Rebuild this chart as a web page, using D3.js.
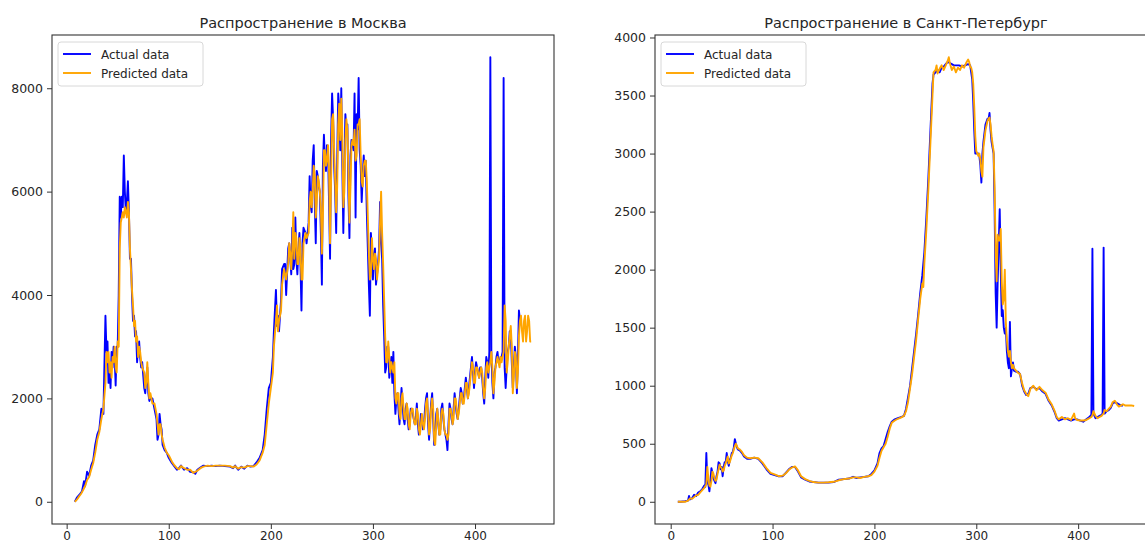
<!DOCTYPE html>
<meta charset="utf-8">
<style>
body {
    margin: 0;
    background: #fff;
}
text {
    font-family: "DejaVu Sans", sans-serif;
    fill: #262626;
}
.frame {
    fill: none;
    stroke: #333;
    stroke-width: 1.1px;
}
.tick line {
    stroke: #333;
}
.line {
    fill: none;
    stroke-width: 1.9px;
    stroke-linejoin: round;
}
</style>
<svg width="1145" height="544"></svg>

<script src="https://d3js.org/d3.v7.min.js"></script>
<script>
// Moscow, [day, cases]
const moscowActual = [
    [8,0],[10,80],[13,150],[15,200],[17,400],[18,300],[20,580],[22,500],[24,700],[26,800],[28,1100],[30,1300],
    [32,1400],[34,1800],[36,1700],[38,3600],[39,2900],[40,3100],[41,2300],[42,2600],[43,2200],[44,2900],[45,2600],
    [46,3000],[47,2800],[48,2250],[49,3000],[50,3000],[51,4000],[52,5900],[53,5500],[54,5900],[55,5700],[56,6700],
    [57,6000],[58,5600],[59,5800],[60,6200],[61,5600],[62,4700],[63,4700],[64,4000],[65,3500],[66,3600],[67,3200],
    [68,3300],[69,2700],[70,3000],[71,3100],[72,2800],[73,2600],[74,2700],[76,2200],[77,2100],[78,2400],[79,2600],
    [80,2100],[81,1950],[82,2000],[84,2000],[86,1800],[88,1600],[89,1200],[90,1300],[91,1700],[92,1500],[93,1400],
    [94,1100],[96,1000],[98,950],[100,850],[103,750],[105,700],[108,620],[110,650],[112,700],[115,620],[118,650],
    [121,580],[124,570],[126,540],[128,620],[131,660],[134,700],[138,690],[142,700],[146,690],[150,700],[155,690],
    [160,680],[163,650],[165,700],[168,620],[171,680],[174,640],[177,700],[180,680],[183,690],[186,760],[189,850],
    [192,1000],[194,1300],[196,1800],[198,2200],[200,2300],[202,2800],[203,3300],[205,4100],[206,3400],[207,3600],
    [208,3300],[210,3900],[211,4500],[213,4600],[214,4600],[215,4000],[217,4900],[218,5000],[219,4700],[220,4400],
    [221,5300],[222,4500],[223,4600],[224,5500],[225,4700],[226,4400],[227,4900],[228,5200],[229,4600],[230,3700],
    [231,5000],[232,5300],[234,5200],[235,5000],[237,5400],[238,6300],[239,5700],[240,5600],[241,6600],[242,6900],
    [243,5800],[244,5000],[245,6400],[246,6300],[247,6100],[248,6000],[249,5200],[250,4200],[251,6500],[252,7100],
    [253,6600],[254,6400],[255,6900],[256,6800],[257,5800],[258,4700],[259,7000],[260,7900],[261,7400],[262,6500],
    [263,6000],[264,5200],[265,6600],[266,7900],[267,7600],[268,6800],[269,8000],[270,6500],[271,5200],[272,6400],
    [273,7500],[274,7200],[275,7300],[276,5900],[277,5100],[278,6700],[279,7000],[280,6900],[281,6800],[282,7900],
    [283,5500],[284,7500],[285,7200],[286,8200],[287,6800],[288,6500],[289,5800],[290,6300],[291,6700],[292,6300],
    [293,6600],[294,5600],[295,4900],[296,4200],[297,3600],[298,5200],[299,4800],[300,4300],[301,4800],[302,4900],
    [303,4200],[304,4400],[305,4600],[306,4900],[307,5800],[308,5000],[309,4700],[310,3800],[311,3200],[312,2500],
    [313,2600],[314,3000],[315,3000],[316,2400],[317,2600],[318,2800],[319,2300],[320,2900],[321,2100],[322,1700],
    [323,2000],[324,2100],[325,1800],[326,1500],[327,1800],[328,2200],[329,1900],[330,1600],[331,1500],[332,1800],
    [333,1900],[334,1600],[335,1400],[336,1500],[337,1800],[338,1800],[339,1700],[340,1600],[341,1500],[342,1600],
    [343,1900],[344,1500],[345,1300],[346,1400],[347,1700],[348,1600],[349,1400],[350,1500],[351,1800],[352,2000],
    [353,2100],[354,1500],[355,1200],[356,1600],[357,1900],[358,2100],[359,1600],[360,1100],[361,1300],[362,1700],
    [363,1800],[364,1500],[365,1300],[366,1400],[367,1800],[368,1900],[369,1600],[370,1400],[371,1300],[372,1200],
    [373,1000],[374,1500],[375,1900],[376,1800],[377,1600],[378,1500],[379,1800],[380,2100],[381,1900],[382,1700],
    [383,1600],[384,1800],[385,2000],[386,2200],[387,2100],[388,1900],[389,2000],[390,2200],[391,2400],[392,2200],
    [393,2000],[394,2200],[395,2400],[396,2600],[397,2800],[398,2500],[399,2200],[400,2500],[401,2700],[402,2600],
    [403,2500],[404,2400],[405,2600],[406,2600],[407,2400],[408,2100],[409,1900],[410,2400],[411,2800],[412,2700],
    [413,2400],[414,2900],[415,8600],[416,2900],[417,2300],[418,2000],[419,2500],[420,2600],[421,2800],[422,2900],
    [423,2700],[424,2700],[425,2800],[426,2800],[427,2900],[428,8200],[429,2600],[430,2200],[431,2600],[432,2900],
    [433,3000],[434,3300],[435,3300],[436,2700],[437,2200],[438,2600],[439,3000],[440,2800],[441,2100],[442,2800],
    [443,3700],[444,3500]
];
const moscowPredicted = [
    [8,0],[10,40],[12,100],[14,150],[16,220],[18,300],[20,420],[22,480],[24,620],[26,750],[28,950],[30,1200],
    [32,1350],[34,1600],[36,1800],[38,2300],[39,2900],[40,2700],[41,2900],[42,2500],[43,2700],[44,2400],[45,2800],
    [46,2700],[47,3000],[48,2600],[49,2500],[50,3100],[51,3000],[52,4900],[53,5400],[54,5500],[55,5600],[56,5500],
    [57,5700],[58,5600],[59,5500],[60,5800],[61,5600],[62,4900],[63,4500],[64,4100],[65,3800],[66,3400],[67,3500],
    [68,3100],[69,3200],[70,2800],[71,3000],[72,2900],[73,2700],[74,2600],[76,2500],[77,2200],[78,2300],[79,2700],
    [80,2300],[81,2000],[82,2100],[84,1900],[86,1900],[88,1700],[89,1500],[90,1300],[91,1500],[92,1500],[93,1300],
    [94,1200],[96,1050],[98,950],[100,900],[103,780],[105,720],[108,650],[110,630],[112,690],[115,650],[118,620],
    [121,620],[124,560],[126,580],[128,600],[131,650],[134,680],[138,700],[142,690],[146,700],[150,700],[155,700],
    [160,690],[163,660],[165,690],[168,640],[171,670],[174,660],[177,690],[180,690],[183,680],[186,720],[189,800],
    [192,950],[194,1100],[196,1500],[198,1900],[200,2200],[202,2500],[203,3000],[205,3500],[206,3800],[207,3300],
    [208,3500],[210,3700],[211,4200],[213,4500],[214,4400],[215,4300],[217,4600],[218,5000],[219,4800],[220,4500],
    [221,4900],[222,5600],[223,4700],[224,5200],[225,5100],[226,4600],[227,4600],[228,5100],[229,4900],[230,4300],
    [231,4300],[232,5000],[234,5200],[235,5100],[237,5200],[238,5800],[239,6000],[240,5700],[241,6000],[242,6500],
    [243,6300],[244,5500],[245,5800],[246,6300],[247,6200],[248,6000],[249,5700],[250,4800],[251,5500],[252,6800],
    [253,6800],[254,6500],[255,6600],[256,6900],[257,6400],[258,5000],[259,6200],[260,7400],[261,7500],[262,6800],
    [263,6200],[264,5600],[265,6100],[266,7300],[267,7700],[268,7000],[269,7800],[270,7100],[271,5700],[272,6000],
    [273,7000],[274,7400],[275,7200],[276,6400],[277,5400],[278,6100],[279,6900],[280,7000],[281,6900],[282,7200],
    [283,6600],[284,6700],[285,7300],[286,7300],[287,7400],[288,6700],[289,6200],[290,6100],[291,6500],[292,6600],
    [293,6600],[294,6200],[295,5500],[296,4800],[297,4300],[298,4400],[299,5100],[300,4700],[301,4500],[302,4800],
    [303,4700],[304,4300],[305,4500],[306,4700],[307,5400],[308,6000],[309,5200],[310,4600],[311,3900],[312,3200],
    [313,2700],[314,2700],[315,3100],[316,2800],[317,2500],[318,2700],[319,2600],[320,2500],[321,2700],[322,2000],
    [323,1900],[324,2100],[325,2100],[326,1700],[327,1600],[328,2000],[329,2100],[330,1800],[331,1600],[332,1600],
    [333,1900],[334,1800],[335,1500],[336,1400],[337,1700],[338,1800],[339,1800],[340,1600],[341,1500],[342,1500],
    [343,1800],[344,1700],[345,1400],[346,1300],[347,1500],[348,1700],[349,1500],[350,1400],[351,1600],[352,1900],
    [353,2000],[354,1700],[355,1300],[356,1400],[357,1800],[358,2000],[359,1800],[360,1200],[361,1100],[362,1500],
    [363,1800],[364,1600],[365,1300],[366,1300],[367,1700],[368,1800],[369,1700],[370,1400],[371,1300],[372,1300],
    [373,1200],[374,1300],[375,1800],[376,1800],[377,1700],[378,1500],[379,1600],[380,2000],[381,2000],[382,1800],
    [383,1600],[384,1700],[385,1900],[386,2100],[387,2100],[388,1900],[389,1900],[390,2100],[391,2300],[392,2300],
    [393,2000],[394,2100],[395,2300],[396,2500],[397,2700],[398,2600],[399,2300],[400,2300],[401,2600],[402,2600],
    [403,2500],[404,2400],[405,2500],[406,2600],[407,2500],[408,2200],[409,2000],[410,2200],[411,2600],[412,2700],
    [413,2500],[414,2600],[415,2700],[416,2900],[417,2600],[418,2100],[419,2300],[420,2600],[421,2700],[422,2800],
    [423,2700],[424,2600],[425,2800],[426,2700],[427,2800],[428,2900],[429,3800],[430,3500],[431,2500],[432,2700],
    [433,3000],[434,3200],[435,3400],[436,3000],[437,2100],[438,2400],[439,2900],[440,2800],[441,2200],[442,2500],
    [443,3200],[444,3500],[445,3600],[446,3300],[447,3100],[448,3500],[449,3600],[450,3100],[451,3300],[452,3600],
    [453,3500],[454,3100],[455,3100]
];

// Saint Petersburg, [day, cases]
const spbActual = [
    [7,0],[10,0],[14,5],[17,10],[18,50],[19,20],[21,30],[23,60],[25,50],[27,80],[29,90],[31,110],[33,140],[34,130],
    [35,420],[36,160],[37,150],[38,90],[39,180],[40,290],[41,250],[42,200],[43,180],[44,160],[45,220],[46,260],
    [47,340],[48,330],[49,280],[50,300],[51,220],[52,300],[53,340],[54,340],[55,420],[56,350],[57,310],[58,360],
    [59,380],[60,420],[61,430],[62,470],[63,540],[64,500],[65,470],[66,450],[68,440],[70,420],[72,390],[75,370],
    [78,370],[82,380],[86,370],[90,330],[94,280],[98,240],[102,230],[106,220],[110,220],[113,250],[116,280],
    [119,300],[122,300],[125,260],[128,210],[132,190],[136,175],[140,170],[145,165],[150,165],[155,165],[160,170],
    [165,190],[170,195],[175,200],[179,215],[182,205],[186,210],[190,215],[194,220],[197,240],[200,270],[203,330],
    [205,420],[207,460],[209,480],[211,540],[213,600],[215,650],[217,690],[220,710],[223,720],[226,730],[229,740],
    [231,800],[233,900],[235,1000],[237,1150],[239,1300],[241,1450],[243,1620],[245,1800],[247,1950],[249,2150],
    [251,2450],[253,2800],[255,3200],[257,3600],[258,3680],[260,3700],[262,3720],[264,3700],[266,3740],[268,3750],
    [270,3770],[272,3790],[274,3780],[276,3770],[278,3760],[280,3760],[283,3760],[286,3750],[289,3760],[292,3770],
    [294,3760],[295,3700],[296,3640],[297,3450],[298,3200],[299,3000],[300,3000],[302,3000],[303,2980],[304,2900],
    [305,2750],[306,3000],[307,3100],[309,3250],[311,3300],[312,3290],[313,3350],[314,3200],[315,3100],[316,3050],
    [317,3000],[318,2500],[319,1800],[320,1500],[321,1900],[322,2200],[323,2520],[324,2000],[325,1600],[326,1650],
    [327,1500],[328,1450],[329,1500],[330,1300],[331,1200],[332,1150],[333,1550],[334,1080],[335,1150],[336,1200],
    [337,1130],[339,1120],[341,1120],[343,1100],[345,1000],[347,950],[349,920],[351,930],[353,980],[356,990],
    [359,970],[362,980],[365,950],[368,930],[371,870],[374,830],[377,770],[379,720],[381,700],[384,710],[387,720],
    [390,710],[393,700],[396,710],[399,710],[402,700],[405,690],[408,710],[411,730],[413,750],[414,2180],[415,760],
    [417,720],[419,730],[421,740],[423,750],[424,760],[425,2190],[426,760],[428,780],[430,790],[432,810],[434,850],
    [436,860],[438,850],[440,840],[442,830],[444,830]
];
const spbPredicted = [
    [7,0],[10,0],[14,0],[17,10],[19,30],[21,25],[23,40],[25,55],[27,60],[29,80],[31,100],[33,120],[35,150],
    [36,300],[37,200],[38,140],[39,130],[40,180],[41,260],[42,240],[43,200],[44,180],[45,190],[46,240],[47,280],
    [48,320],[49,300],[50,290],[51,260],[52,270],[53,310],[54,330],[55,360],[56,390],[57,330],[58,340],[59,370],
    [60,400],[61,420],[62,450],[63,480],[64,500],[65,480],[66,460],[68,450],[70,430],[72,400],[75,380],[78,375],
    [82,380],[86,375],[90,340],[94,290],[98,250],[102,235],[106,220],[110,225],[113,245],[116,275],[119,295],
    [122,305],[125,270],[128,220],[132,195],[136,180],[140,170],[145,165],[150,165],[155,168],[160,172],[165,185],
    [170,195],[175,200],[179,210],[182,210],[186,205],[190,215],[194,220],[197,230],[200,260],[203,310],[205,380],
    [207,440],[209,470],[211,500],[213,560],[215,630],[217,680],[220,700],[223,715],[226,725],[229,740],[231,780],
    [233,860],[235,980],[237,1100],[239,1250],[241,1400],[243,1580],[245,1750],[247,1880],[248,1850],[249,2050],
    [251,2350],[253,2700],[255,3100],[257,3500],[258,3700],[260,3720],[261,3760],[262,3690],[264,3730],[266,3760],
    [268,3720],[270,3760],[272,3800],[273,3830],[274,3780],[276,3720],[278,3750],[280,3700],[282,3740],[284,3720],
    [286,3760],[288,3740],[290,3780],[292,3810],[293,3790],[294,3750],[295,3740],[296,3700],[297,3600],[298,3400],
    [299,3150],[300,3020],[302,2980],[303,3000],[304,2950],[305,2850],[306,2800],[307,3050],[309,3200],[311,3280],
    [312,3300],[313,3310],[314,3250],[315,3150],[316,3080],[317,3020],[318,2700],[319,2150],[320,1900],[321,2300],
    [322,2250],[323,2250],[324,2350],[325,1900],[326,1700],[327,1750],[328,2000],[329,1550],[330,1400],[331,1300],
    [332,1250],[333,1300],[334,1200],[335,1150],[336,1180],[337,1150],[339,1130],[341,1110],[343,1100],[345,1020],
    [347,960],[349,930],[351,910],[353,970],[356,1000],[359,960],[362,990],[365,960],[368,940],[371,880],[374,840],
    [377,780],[379,730],[381,710],[384,730],[387,710],[390,720],[393,705],[396,760],[397,720],[399,705],[402,700],
    [405,700],[408,705],[411,720],[413,730],[414,745],[415,780],[417,740],[419,720],[421,730],[423,740],[424,750],
    [425,760],[426,790],[428,780],[430,800],[432,820],[434,860],[436,870],[438,840],[440,820],[442,830],[444,840],
    [446,830],[448,830],[450,830],[452,830],[455,825]
];

const xTicks = [0, 100, 200, 300, 400];
const moscowYTicks = [0, 2000, 4000, 6000, 8000];
const spbYTicks = [0, 500, 1000, 1500, 2000, 2500, 3000, 3500, 4000];
const legendLabels = ['Actual data', 'Predicted data'];
const colors = ['blue', 'orange'];

let svg = d3.select('svg');

function pad(ext) {
    let m = (ext[1] - ext[0]) * 0.05;
    return [ext[0] - m, ext[1] + m];
}

function panel(opts) {
    let left = opts.left, top = 35, w = 502, h = 489;
    let all = opts.actual.concat(opts.predicted);

    let x = d3.scaleLinear()
        .domain(pad(d3.extent(all, d => d[0])))
        .range([left, left + w]);
    let y = d3.scaleLinear()
        .domain(pad(d3.extent(all, d => d[1])))
        .range([top + h, top]);

    let g = svg.append('g');
    let clipId = 'clip' + opts.left;
    g.append('clipPath').attr('id', clipId)
        .append('rect')
            .attr('x', left).attr('y', top)
            .attr('width', w).attr('height', h);

    let line = d3.line()
        .x(d => x(d[0]))
        .y(d => y(d[1]));

    g.selectAll('path.line')
        .data([opts.actual, opts.predicted])
        .enter().append('path')
            .attr('class', 'line')
            .attr('clip-path', `url(#${clipId})`)
            .attr('stroke', (d, i) => colors[i])
            .attr('d', line);

    // x tick labels sit at the very bottom edge of the picture
    g.append('g')
        .attr('transform', `translate(0,${top + h})`)
        .call(d3.axisBottom(x).tickValues(xTicks).tickFormat(d3.format('d')).tickSize(5).tickPadding(2))
        .call(a => a.select('.domain').remove())
        .selectAll('text')
            .style('font-size', '12px');

    g.append('g')
        .attr('transform', `translate(${left},0)`)
        .call(d3.axisLeft(y).tickValues(opts.yTicks).tickFormat(d3.format('d')).tickSize(5).tickPadding(4))
        .call(a => a.select('.domain').remove())
        .selectAll('text')
            .style('font-size', '12.5px');

    g.append('rect')
        .attr('class', 'frame')
        .attr('x', left).attr('y', top)
        .attr('width', w).attr('height', h);

    g.append('text')
        .attr('x', left + w / 2)
        .attr('y', 28)
        .attr('text-anchor', 'middle')
        .style('font-size', '14.5px')
        .text(opts.title);

    // legend, upper left
    let lg = g.append('g').attr('transform', `translate(${left + 6},42)`);
    lg.append('rect')
        .attr('width', 145).attr('height', 44)
        .attr('rx', 3)
        .attr('fill', 'white').attr('fill-opacity', 0.8)
        .attr('stroke', '#d8d8d8');
    legendLabels.forEach((lab, i) => {
        lg.append('line')
            .attr('x1', 5).attr('x2', 33)
            .attr('y1', 12 + i * 19).attr('y2', 12 + i * 19)
            .attr('stroke', colors[i]).attr('stroke-width', 1.9);
        lg.append('text')
            .attr('x', 43).attr('y', 16.5 + i * 19)
            .style('font-size', '12px')
            .text(lab);
    });
}

panel({left: 52, title: 'Распространение в Москва',
       actual: moscowActual, predicted: moscowPredicted, yTicks: moscowYTicks});
panel({left: 655, title: 'Распространение в Санкт-Петербург',
       actual: spbActual, predicted: spbPredicted, yTicks: spbYTicks});
</script>
